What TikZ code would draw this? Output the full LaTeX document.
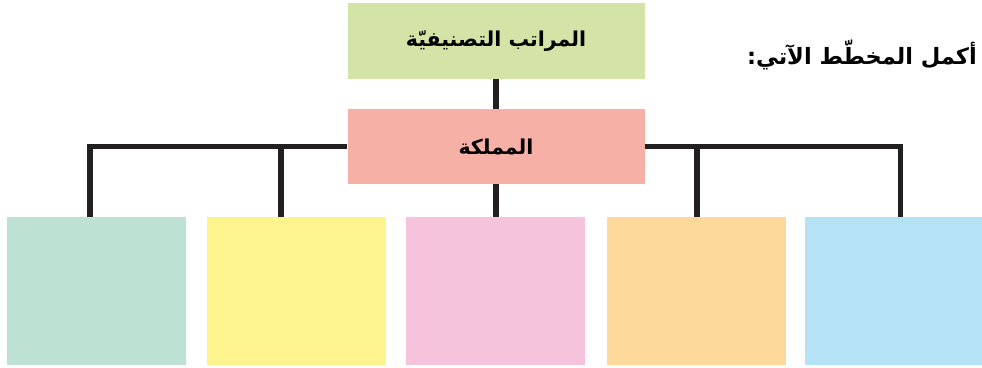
\documentclass[tikz,border=0pt]{standalone}
\usepackage{fontspec}
\TeXXeTstate=1
\newfontfamily\arabicfont[Script=Arabic]{DejaVu Sans}
\definecolor{cgreen}{HTML}{D3E4A6}
\definecolor{csalmon}{HTML}{F6B0A6}
\definecolor{cmint}{HTML}{BDE1D2}
\definecolor{cyellow}{HTML}{FDF48E}
\definecolor{cpink}{HTML}{F5C3DB}
\definecolor{corange}{HTML}{FCD99B}
\definecolor{cblue}{HTML}{B5E2F5}
\definecolor{cline}{HTML}{231F20}
\tikzset{
  headbox/.style={minimum width=297pt, minimum height=76pt, inner sep=0pt, font=\arabicfont\bfseries\fontsize{20.5}{24}\selectfont},
  leafbox/.style={minimum width=179pt, minimum height=148pt, inner sep=0pt},
  conn/.style={draw=cline, line width=5.5pt, line join=miter}
}
\begin{document}
\begin{tikzpicture}[x=1pt,y=-1pt]
\useasboundingbox (0,0) rectangle (982,367);
\node[headbox, fill=cgreen] (top) at (496,41) {\beginR المراتب التصنيفيّة\endR};
\node[headbox, fill=csalmon, minimum height=75pt] (king) at (496,146.5) {\beginR المملكة\endR};
\node[leafbox, fill=cmint] (b1) at (96.5,291) {};
\node[leafbox, fill=cyellow] (b2) at (296.5,291) {};
\node[leafbox, fill=cpink] (b3) at (495.5,291) {};
\node[leafbox, fill=corange] (b4) at (696.5,291) {};
\node[leafbox, fill=cblue] (b5) at (894.5,291) {};
\node[font=\arabicfont\bfseries\fontsize{22.5}{26}\selectfont, inner sep=0pt, anchor=east] (title) at (977,55) {\beginR أكمل المخطّط الآتي:\endR};
\coordinate (c1) at ([xshift=-6.5pt]b1.north);
\coordinate (c2) at ([xshift=-15.5pt]b2.north);
\coordinate (c3) at ([xshift=0.5pt]b3.north);
\coordinate (c4) at ([xshift=0.5pt]b4.north);
\coordinate (c5) at ([xshift=6pt]b5.north);
\draw[conn] (top.south) -- (king.north);
\draw[conn] (king.south) -- (c3);
\draw[conn] (king.west) -| (c1);
\draw[conn] (king.west) -| (c2);
\draw[conn] (king.east) -| (c5);
\draw[conn] (king.east) -| (c4);
\end{tikzpicture}
\end{document}
